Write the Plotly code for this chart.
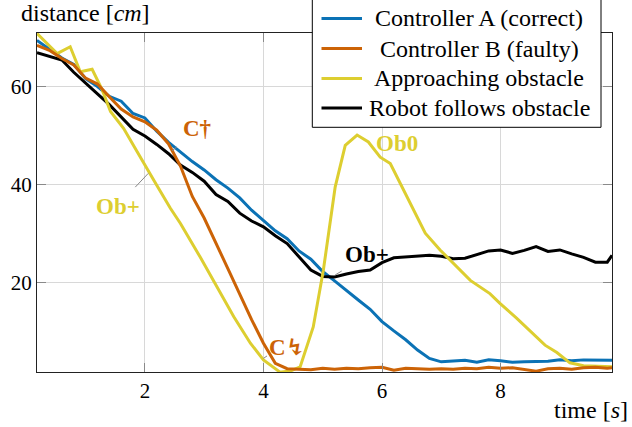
import plotly.graph_objects as go

# ---------------- data ----------------
time = [0.18, 0.4, 0.6, 0.8, 1.0, 1.2, 1.4, 1.6, 1.8, 2.0,
        2.2, 2.4, 2.6, 2.8, 3.0, 3.2, 3.4, 3.6, 3.8, 4.0,
        4.2, 4.4, 4.6, 4.8, 5.0, 5.2, 5.4, 5.6, 5.8, 6.0,
        6.2, 6.4, 6.6, 6.8, 7.0, 7.2, 7.4, 7.6, 7.8, 8.0,
        8.2, 8.4, 8.6, 8.8, 9.0, 9.2, 9.4, 9.6, 9.8, 9.88]

controller_a = [69.4, 67.5, 65.8, 64.5, 61.6, 60.0, 58.0, 57.0, 54.5, 53.6,
                50.9, 48.6, 46.6, 44.7, 43.0, 41.0, 39.3, 37.3, 34.8, 32.8,
                30.6, 29.0, 26.5, 24.8, 22.3, 20.4, 18.4, 16.5, 14.6, 12.1,
                10.2, 8.4, 6.3, 4.6, 3.9, 4.1, 4.2, 3.8, 4.3, 4.1,
                3.8, 3.9, 3.9, 4.0, 4.3, 4.1, 4.3, 4.3, 4.2, 4.2]

controller_b = [68.4, 67.3, 65.7, 64.4, 61.7, 60.5, 57.9, 55.4, 53.8, 52.8,
                51.1, 48.3, 43.8, 37.6, 33.2, 27.9, 22.9, 17.7, 12.5, 7.7,
                3.6, 2.5, 2.4, 2.3, 2.6, 2.4, 2.6, 2.5, 2.7, 2.8,
                2.2, 2.6, 2.5, 2.4, 2.5, 2.4, 2.6, 2.5, 2.8, 2.6,
                2.7, 2.3, 2.0, 2.5, 2.6, 2.4, 2.7, 2.8, 2.6, 2.7]

robot_follows = [66.9, 66.1, 65.4, 62.9, 60.6, 58.5, 56.3, 53.8, 51.3, 49.9,
                 48.2, 46.3, 44.0, 42.5, 40.7, 38.0, 36.6, 34.2, 32.6, 31.4,
                 29.6, 28.0, 25.3, 22.6, 21.3, 21.2, 21.8, 22.3, 22.6, 24.1,
                 25.1, 25.3, 25.5, 25.6, 25.4, 24.9, 25.0, 25.7, 26.5, 26.7,
                 26.0, 26.6, 27.4, 26.4, 26.7, 25.9, 25.2, 24.2, 24.2, 25.6]

approach_time = [0.18, 0.52, 0.74, 0.91, 1.11, 1.28, 1.42, 1.64, 1.87, 2.04,
                 2.20, 2.43, 2.60, 2.93, 3.22, 3.50, 3.78, 4.00, 4.28, 4.47,
                 4.62, 4.84, 5.01, 5.21, 5.38, 5.58, 5.77, 5.97, 6.14, 6.31,
                 6.53, 6.73, 6.98, 7.26, 7.49, 7.82, 7.99, 8.27, 8.55, 8.75,
                 8.95, 9.17, 9.40, 9.85, 9.88]
approaching = [70.8, 66.7, 68.1, 63.0, 63.5, 59.3, 54.9, 51.5, 46.7, 43.3,
               39.9, 35.2, 32.1, 25.3, 19.2, 13.1, 7.7, 4.3, 1.8, 2.1,
               2.9, 11.0, 22.5, 39.5, 48.0, 50.1, 48.7, 45.6, 44.3, 40.2,
               34.8, 30.1, 26.7, 23.3, 20.5, 17.8, 15.8, 12.8, 9.7, 7.3,
               5.8, 3.7, 3.1, 2.9, 2.9]

series_names = ["Controller A (correct)", "Controller B (faulty)",
                "Approaching obstacle", "Robot follows obstacle"]
x_ticks = [2, 4, 6, 8]
y_ticks = [20, 40, 60]

# marker labels: (text, t, value, colour index)
label_text = ["C†", "Ob+", "Ob0", "Ob+", "C↯", "Ob-"]
label_t = [2.88, 1.55, 6.26, 5.75, 4.40, 4.74]
label_v = [51.5, 35.6, 48.4, 25.8, 6.9, -1.8]
label_series = [1, 2, 2, 3, 1, 2]
# pins (short connector lines) from label towards curve
pin_t0 = [2.457, 1.838, 5.21, 4.00]
pin_v0 = [46.9, 39.5, 21.6, 4.6]
pin_t1 = [2.541, 2.057, 5.32, 4.06]
pin_v1 = [47.7, 42.3, 22.4, 5.1]

# ---------------- style ----------------
BLUE = "#0b72b5"
ORANGE = "#cc6306"
YELLOW = "#ddce30"
BLACK = "#000000"
colors = [BLUE, ORANGE, YELLOW, BLACK]
FONT = "Liberation Serif, DejaVu Serif, serif"
FS_TEXT = 24
FS_TICK = 21
FS_LABEL = 23

W, H = 632, 427
ML, MR, MT, MB = 37, 20, 33, 55
PW, PH = W - ML - MR, H - MT - MB


def px(x):
    return (x - ML) / PW


def py(y):
    return (H - MB - y) / PH


fig = go.Figure()
fig.add_trace(go.Scatter(x=time, y=controller_a, mode="lines", name=series_names[0],
                         line=dict(color=BLUE, width=3), showlegend=False))
fig.add_trace(go.Scatter(x=time, y=robot_follows, mode="lines", name=series_names[3],
                         line=dict(color=BLACK, width=3), showlegend=False))
fig.add_trace(go.Scatter(x=approach_time, y=approaching, mode="lines", name=series_names[2],
                         line=dict(color=YELLOW, width=3), showlegend=False))
fig.add_trace(go.Scatter(x=time, y=controller_b, mode="lines", name=series_names[1],
                         line=dict(color=ORANGE, width=3), showlegend=False))

shapes = []
for a, b, c, d in zip(pin_t0, pin_v0, pin_t1, pin_v1):
    shapes.append(dict(type="line", xref="x", yref="y", x0=a, y0=b, x1=c, y1=d,
                       line=dict(color="#888888", width=1), layer="above"))

# legend box (manual, to get centred entries like the original)
shapes.append(dict(type="rect", xref="paper", yref="paper",
                   x0=px(312.3), x1=px(601), y0=py(127.3), y1=py(-3),
                   fillcolor="white", line=dict(color="black", width=1), layer="above"))
row_y = [18.5, 48.5, 78.5, 108]
for i, ry in enumerate(row_y):
    shapes.append(dict(type="line", xref="paper", yref="paper",
                       x0=px(321.5), x1=px(362), y0=py(ry), y1=py(ry),
                       line=dict(color=colors[i], width=3), layer="above"))

annotations = []
for i, ry in enumerate(row_y):
    annotations.append(dict(text=series_names[i], xref="paper", yref="paper",
                            x=px(479), y=py(ry), xanchor="center", yanchor="middle",
                            showarrow=False, font=dict(family=FONT, size=FS_TEXT, color="black")))

for txt, t, v, s in zip(label_text, label_t, label_v, label_series):
    annotations.append(dict(text="<b>" + txt + "</b>", xref="x", yref="y", x=t, y=v,
                            xanchor="center", yanchor="middle", showarrow=False,
                            font=dict(family=FONT, size=FS_LABEL, color=colors[s])))

annotations.append(dict(text="distance [<i>cm</i>]", xref="paper", yref="paper",
                        x=px(19), y=py(13), xanchor="left", yanchor="middle",
                        showarrow=False, font=dict(family=FONT, size=FS_TEXT, color="black")))
annotations.append(dict(text="time [<i>s</i>]", xref="paper", yref="paper",
                        x=px(630), y=py(410), xanchor="right", yanchor="middle",
                        showarrow=False, font=dict(family=FONT, size=FS_TEXT, color="black")))

axis_common = dict(showgrid=True, gridcolor="#d8d8d8", gridwidth=1, zeroline=False,
                   showline=True, linecolor="#222222", linewidth=1, mirror="ticks",
                   ticks="inside", ticklen=9, tickcolor="#8a8a8a", tickwidth=1,
                   tickfont=dict(family=FONT, size=FS_TICK, color="black"))

fig.update_layout(
    width=W, height=H,
    margin=dict(l=ML, r=MR, t=MT, b=MB, pad=0),
    paper_bgcolor="white", plot_bgcolor="white",
    showlegend=False,
    hovermode=False,
    xaxis=dict(range=[0.18, 9.88], tickvals=x_ticks, ticktext=[str(v) for v in x_ticks],
               **axis_common),
    yaxis=dict(range=[1.83, 70.9], tickvals=y_ticks, ticktext=[str(v) for v in y_ticks],
               **axis_common),
    shapes=shapes,
    annotations=annotations,
    font=dict(family=FONT, size=FS_TEXT, color="black"),
)

fig.write_html("out.html",
               config={"displayModeBar": False, "staticPlot": True},
               post_script="document.body.style.margin='0';document.body.style.padding='0';")
